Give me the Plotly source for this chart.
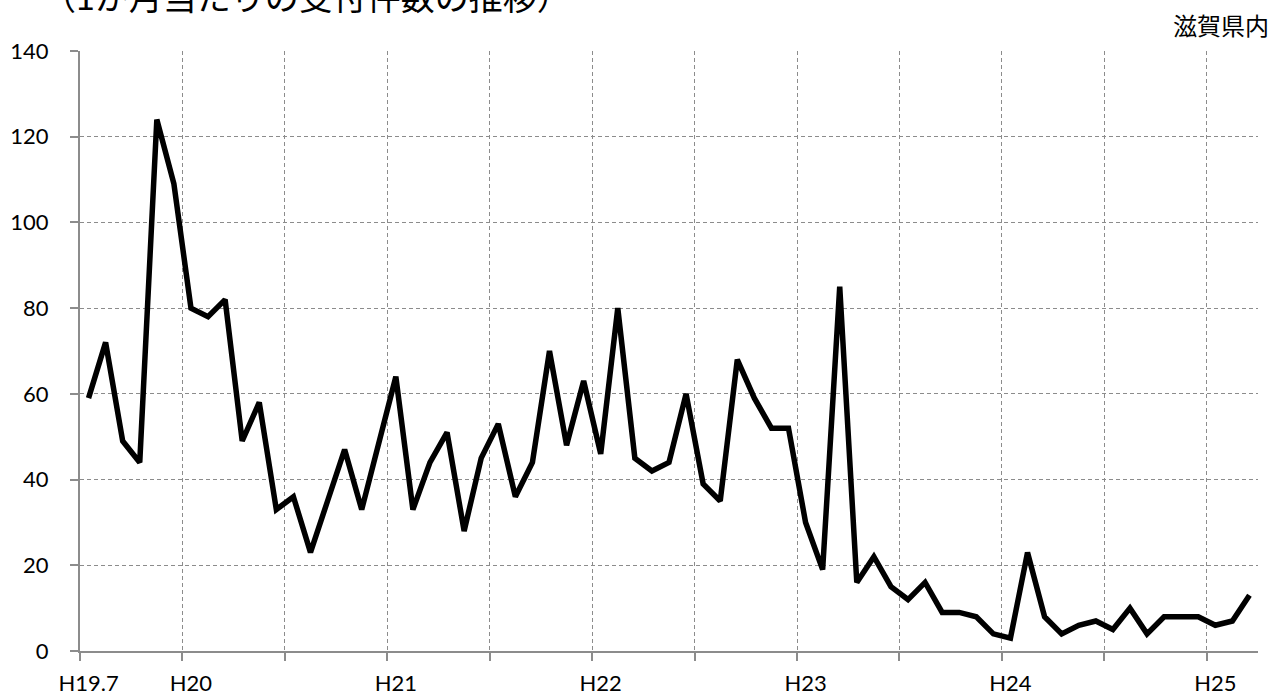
import plotly.graph_objects as go

# Monthly counts, H19.7 (Jul 2007) through H25.3 (Mar 2013)
months = list(range(69))
counts = [59, 72, 49, 44, 124, 109, 80, 78, 82, 49, 58, 33,
          36, 23, 35, 47, 33, 48, 64, 33, 44, 51, 28, 45,
          53, 36, 44, 70, 48, 63, 46, 80, 45, 42, 44, 60,
          39, 35, 68, 59, 52, 52, 30, 19, 85, 16, 22, 15,
          12, 16, 9, 9, 8, 4, 3, 23, 8, 4, 6, 7,
          5, 10, 4, 8, 8, 8, 6, 7, 13]

label_pos = [0, 6, 18, 30, 42, 54, 66]
label_text = ["H19.7", "H20", "H21", "H22", "H23", "H24", "H25"]
boundary_pos = [-0.5 + 6 * k for k in range(12)]

title_text = "（1か月当たりの受付件数の推移）"
region_text = "滋賀県内"

GRID = "#8c8c8c"

fig = go.Figure()
fig.add_trace(go.Scatter(
    x=months, y=counts, mode="lines",
    line=dict(color="black", width=5.5, shape="linear"),
    hoverinfo="skip", showlegend=False,
))

fig.update_layout(
    width=1275, height=694,
    margin=dict(l=80, r=17, t=51, b=43),
    paper_bgcolor="white", plot_bgcolor="white",
    font=dict(family="Lato, Open Sans, sans-serif", size=22, color="black"),
    xaxis=dict(
        range=[-0.5, 68.5], automargin=False,
        tickmode="array", tickvals=label_pos, ticktext=label_text,
        ticks="outside", ticklen=8, tickcolor="rgba(0,0,0,0)",
        ticklabelstandoff=4,
        showgrid=False, zeroline=False,
        showline=True, linecolor=GRID, linewidth=2,
        minor=dict(tickmode="array", tickvals=boundary_pos,
                   ticks="outside", ticklen=8, tickcolor=GRID, tickwidth=1.5,
                   showgrid=True, gridcolor=GRID, gridwidth=1,
                   griddash="4px,3px"),
    ),
    yaxis=dict(
        range=[0, 140], dtick=20, tick0=0, automargin=False,
        ticks="outside", ticklen=8, tickcolor=GRID, tickwidth=1.5,
        ticklabelstandoff=17,
        showgrid=True, gridcolor=GRID, gridwidth=1, griddash="4px,3px",
        zeroline=False,
        showline=True, linecolor=GRID, linewidth=2,
    ),
    annotations=[
        dict(text=title_text, xref="paper", yref="paper",
             x=0, y=1.0, xanchor="left", yanchor="bottom",
             xshift=-40, yshift=29,
             showarrow=False,
             font=dict(family="Noto Sans CJK JP", size=34, color="black")),
        dict(text=region_text, xref="paper", yref="paper",
             x=1.0, y=1.0, xanchor="right", yanchor="bottom", yshift=7,
             xshift=13, showarrow=False,
             font=dict(family="Noto Sans CJK JP", size=24, color="black")),
    ],
)

fig.write_html(
    "out.html",
    config={"displayModeBar": False},
    post_script="document.body.style.margin='0';document.body.style.overflow='hidden';",
)
